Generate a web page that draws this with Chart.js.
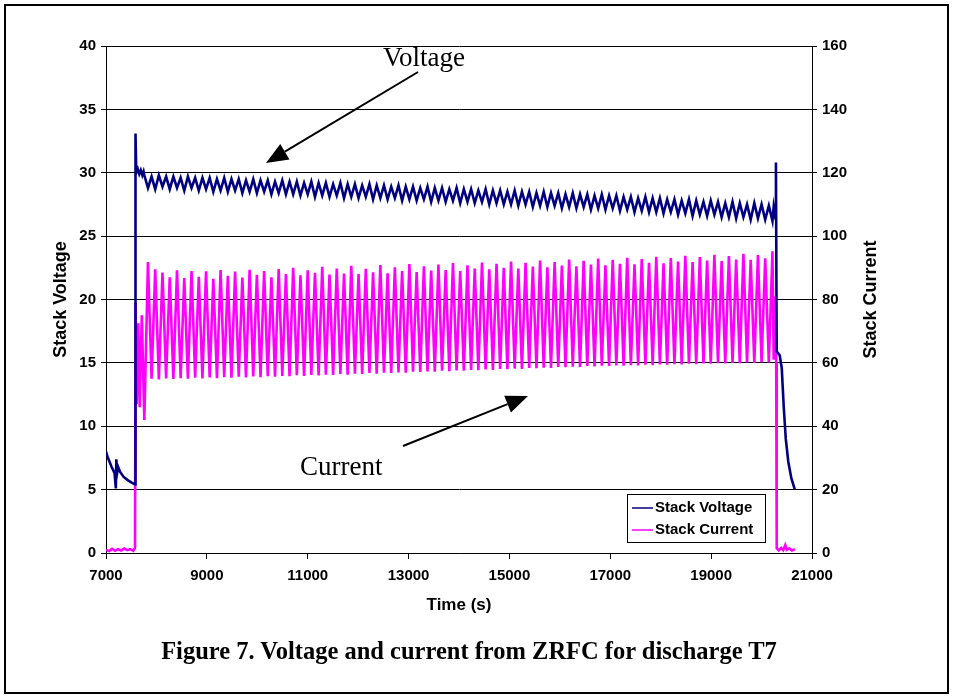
<!DOCTYPE html>
<html>
<head>
<meta charset="utf-8">
<script src="https://cdn.jsdelivr.net/npm/chart.js@4/dist/chart.umd.min.js"></script>
<style>
  html, body { margin: 0; padding: 0; background: #fff; }
  #wrap { position: relative; width: 955px; height: 698px; overflow: hidden; }
  #frame { position: absolute; left: 4px; top: 4px; width: 941px; height: 686px; border: 2px solid #000; pointer-events: none; }
  canvas { position: absolute; left: 0; top: 0; }
  .note { position: absolute; font-family: "Liberation Serif", "Times New Roman", serif; font-size: 27px; color: #000; white-space: nowrap; line-height: 1; }
  #caption { position: absolute; left: 0; width: 938px; top: 638px; text-align: center; font-family: "Liberation Serif", "Times New Roman", serif; font-weight: bold; font-size: 24.5px; color: #000; line-height: 1.1; }
</style>
</head>
<body>
<div id="wrap">
  <canvas id="c" width="955" height="698"></canvas>
  <div id="frame"></div>
  <div class="note" id="noteV" style="left:383px; top:44px;">Voltage</div>
  <div class="note" id="noteC" style="left:300px; top:453px;">Current</div>
  <div id="caption">Figure 7. Voltage and current from ZRFC for discharge T7</div>
</div>
<script>
// ---------- data ----------
const xTicks = [7000, 9000, 11000, 13000, 15000, 17000, 19000, 21000];
const voltageTicks = [0, 5, 10, 15, 20, 25, 30, 35, 40];
const currentTicks = [0, 20, 40, 60, 80, 100, 120, 140, 160];

// start of each current pulse (s)
const cycleTimes = [
  7760, 7904, 8048, 8192, 8336, 8480, 8624, 8768, 8912, 9056,
  9200, 9344, 9488, 9632, 9776, 9920, 10064, 10208, 10352, 10496,
  10640, 10784, 10928, 11072, 11216, 11360, 11504, 11648, 11792, 11936,
  12080, 12224, 12368, 12512, 12656, 12800, 12944, 13088, 13232, 13376,
  13520, 13664, 13808, 13952, 14096, 14240, 14384, 14528, 14672, 14816,
  14960, 15104, 15248, 15392, 15536, 15680, 15824, 15968, 16112, 16256,
  16400, 16544, 16688, 16832, 16976, 17120, 17264, 17408, 17552, 17696,
  17840, 17984, 18128, 18272, 18416, 18560, 18704, 18848, 18992, 19136,
  19280, 19424, 19568, 19712, 19856, 20000, 20144
];
const halfCycle = 72; // s from trough to peak

const currentTroughs = [
  42.0, 55.0, 54.8, 55.1, 54.9, 55.2, 55.0, 55.3, 55.1, 55.4,
  55.2, 55.5, 55.3, 55.6, 55.4, 55.7, 55.5, 55.8, 55.6, 55.9,
  55.8, 56.1, 55.9, 56.2, 56.0, 56.3, 56.2, 56.5, 56.3, 56.6,
  56.5, 56.8, 56.6, 56.9, 56.8, 57.0, 56.9, 57.2, 57.1, 57.3,
  57.2, 57.5, 57.4, 57.6, 57.5, 57.8, 57.7, 57.9, 57.8, 58.1,
  58.0, 58.2, 58.1, 58.4, 58.3, 58.5, 58.4, 58.7, 58.6, 58.8,
  58.7, 59.0, 58.9, 59.1, 59.0, 59.2, 59.1, 59.3, 59.2, 59.4,
  59.3, 59.5, 59.4, 59.6, 59.5, 59.7, 59.6, 59.8, 59.7, 59.9,
  59.8, 60.0, 59.9, 60.1, 60.0, 60.2, 60.1
];
const currentPeaks = [
  91.8, 89.5, 88.5, 87.0, 89.2, 86.8, 89.0, 87.2, 88.9, 86.5,
  89.3, 87.5, 88.8, 86.9, 89.4, 87.8, 89.0, 87.0, 89.6, 88.0,
  90.0, 87.6, 89.2, 88.4, 90.3, 87.9, 89.8, 88.2, 90.6, 88.0,
  89.7, 88.6, 90.9, 88.3, 90.2, 89.0, 91.2, 88.7, 90.5, 89.1,
  91.0, 89.3, 91.5, 89.0, 90.8, 89.8, 91.7, 89.5, 91.3, 90.0,
  92.0, 89.8, 91.6, 90.4, 92.3, 90.2, 91.8, 90.7, 92.6, 90.5,
  92.2, 91.0, 92.9, 90.8, 92.5, 91.3, 93.2, 91.1, 92.8, 91.6,
  93.5, 91.4, 93.1, 92.0, 93.8, 91.8, 93.4, 92.3, 94.1, 92.1,
  93.7, 92.6, 94.4, 92.5, 94.0, 93.0, 95.2
];
const voltageHighs = [
  29.8, 29.7, 29.8, 29.7, 29.7, 29.6, 29.7, 29.6, 29.6, 29.6,
  29.5, 29.6, 29.5, 29.5, 29.4, 29.5, 29.4, 29.4, 29.3, 29.4,
  29.3, 29.3, 29.2, 29.3, 29.2, 29.2, 29.1, 29.2, 29.1, 29.1,
  29.0, 29.1, 29.0, 29.0, 28.9, 29.0, 28.9, 28.9, 28.8, 28.9,
  28.8, 28.8, 28.7, 28.8, 28.7, 28.7, 28.6, 28.7, 28.6, 28.6,
  28.5, 28.6, 28.5, 28.5, 28.4, 28.5, 28.4, 28.4, 28.3, 28.4,
  28.3, 28.3, 28.2, 28.3, 28.2, 28.2, 28.1, 28.1, 28.0, 28.1,
  28.0, 28.0, 27.9, 27.9, 27.8, 27.9, 27.8, 27.7, 27.8, 27.7,
  27.6, 27.7, 27.6, 27.5, 27.6, 27.5, 27.4
];
const voltageLows = [
  28.8, 28.7, 28.9, 28.7, 28.8, 28.6, 28.8, 28.6, 28.7, 28.5,
  28.6, 28.5, 28.6, 28.4, 28.5, 28.4, 28.5, 28.3, 28.4, 28.3,
  28.3, 28.2, 28.3, 28.1, 28.2, 28.1, 28.2, 28.0, 28.1, 28.0,
  28.1, 27.9, 28.0, 27.9, 28.0, 27.8, 27.9, 27.8, 27.9, 27.7,
  27.8, 27.7, 27.8, 27.6, 27.7, 27.6, 27.7, 27.5, 27.6, 27.5,
  27.5, 27.4, 27.5, 27.3, 27.4, 27.3, 27.4, 27.2, 27.3, 27.2,
  27.3, 27.1, 27.2, 27.1, 27.2, 27.0, 27.1, 26.9, 27.0, 26.9,
  26.9, 26.8, 26.9, 26.7, 26.8, 26.6, 26.7, 26.6, 26.7, 26.5,
  26.5, 26.4, 26.5, 26.3, 26.4, 26.3, 26.2
];

// before and after the pulsed discharge: [time, value]
const voltageBefore = [
  [7000, 8.0], [7030, 7.6], [7070, 7.2], [7110, 6.8], [7170, 6.3], [7195, 5.1],
  [7205, 7.4], [7220, 6.3], [7240, 6.8], [7280, 6.4], [7350, 6.0], [7430, 5.75],
  [7510, 5.55], [7578, 5.4], [7585, 33.1], [7600, 30.0], [7630, 30.3], [7660, 29.9],
  [7690, 30.2], [7720, 29.8], [7745, 30.1]
];
const currentBefore = [
  [7000, 1.0], [7060, 0.6], [7120, 1.3], [7180, 0.7], [7240, 1.2], [7300, 0.8],
  [7360, 1.4], [7420, 0.9], [7480, 1.2], [7540, 0.7], [7575, 1.6], [7588, 79.0],
  [7608, 47.0], [7640, 72.5], [7668, 46.0], [7710, 75.0]
];
const voltageAfter = [
  [20240, 27.3], [20275, 26.4], [20285, 30.8], [20300, 15.9], [20360, 15.6],
  [20400, 14.6], [20440, 11.5], [20480, 9.0], [20530, 7.2], [20590, 5.9], [20660, 5.0]
];
const currentAfter = [
  [20240, 61.0], [20275, 81.0], [20290, 60.0], [20300, 1.5], [20340, 0.8],
  [20390, 1.6], [20430, 0.9], [20470, 2.5], [20500, 1.0], [20550, 1.5],
  [20600, 0.8], [20660, 1.2]
];

// ---------- build series ----------
const voltageData = voltageBefore.map(p => ({x: p[0], y: p[1]}));
const currentData = currentBefore.map(p => ({x: p[0], y: p[1]}));
cycleTimes.forEach((t, i) => {
  voltageData.push({x: t, y: voltageHighs[i]});
  voltageData.push({x: t + halfCycle, y: voltageLows[i]});
  currentData.push({x: t, y: currentTroughs[i]});
  currentData.push({x: t + halfCycle, y: currentPeaks[i]});
});
voltageAfter.forEach(p => voltageData.push({x: p[0], y: p[1]}));
currentAfter.forEach(p => currentData.push({x: p[0], y: p[1]}));

const AXIS_FONT = {family: '"Liberation Sans", Arial, sans-serif', size: 15, weight: 'bold'};
const TITLE_FONT = {family: '"Liberation Sans", Arial, sans-serif', size: 17, weight: 'bold'};
const YTITLE_FONT = {family: '"Liberation Sans", Arial, sans-serif', size: 18, weight: 'bold'};

const overlayPlugin = {
  id: 'overlay',
  afterDraw(chart) {
    const ctx = chart.ctx;
    ctx.save();
    // right axis title (reads bottom to top)
    const area = chart.chartArea;
    ctx.font = 'bold 18px "Liberation Sans", Arial, sans-serif';
    ctx.fillStyle = '#000';
    ctx.textAlign = 'center';
    ctx.textBaseline = 'middle';
    ctx.translate(871, (area.top + area.bottom) / 2);
    ctx.rotate(-Math.PI / 2);
    ctx.fillText('Stack Current', 0, 0);
    ctx.restore();

    // arrows
    function arrow(x1, y1, x2, y2) {
      const ang = Math.atan2(y2 - y1, x2 - x1);
      const hl = 22, hw = 9;
      const bx = x2 - hl * Math.cos(ang), by = y2 - hl * Math.sin(ang);
      ctx.save();
      ctx.strokeStyle = '#000';
      ctx.fillStyle = '#000';
      ctx.lineWidth = 2;
      ctx.beginPath();
      ctx.moveTo(x1, y1);
      ctx.lineTo(bx, by);
      ctx.stroke();
      ctx.beginPath();
      ctx.moveTo(x2, y2);
      ctx.lineTo(bx + hw * Math.sin(ang), by - hw * Math.cos(ang));
      ctx.lineTo(bx - hw * Math.sin(ang), by + hw * Math.cos(ang));
      ctx.closePath();
      ctx.fill();
      ctx.restore();
    }
    arrow(418, 72, 266, 163);
    arrow(403, 446, 528, 396);

    // legend box inside plot area
    ctx.save();
    const lx = 627, ly = 494, lw = 138, lh = 48;
    ctx.fillStyle = '#fff';
    ctx.fillRect(lx, ly, lw, lh);
    ctx.strokeStyle = '#000';
    ctx.lineWidth = 1;
    ctx.strokeRect(lx + 0.5, ly + 0.5, lw, lh);
    ctx.font = 'bold 15px "Liberation Sans", Arial, sans-serif';
    ctx.textAlign = 'left';
    ctx.textBaseline = 'middle';
    chart.data.datasets.forEach((ds, i) => {
      const cy = ly + 14 + i * 22;
      ctx.strokeStyle = ds.borderColor;
      ctx.lineWidth = 1.5;
      ctx.beginPath();
      ctx.moveTo(lx + 5, cy);
      ctx.lineTo(lx + 26, cy);
      ctx.stroke();
      ctx.fillStyle = '#000';
      ctx.fillText(ds.label, lx + 28, cy);
    });
    ctx.restore();
  }
};

new Chart(document.getElementById('c'), {
  type: 'line',
  data: {
    datasets: [
      {label: 'Stack Voltage', data: voltageData, yAxisID: 'yV', borderColor: '#000080', borderWidth: 2.6, pointRadius: 0, tension: 0},
      {label: 'Stack Current', data: currentData, yAxisID: 'yI', borderColor: '#FF00FF', borderWidth: 2.6, pointRadius: 0, tension: 0}
    ]
  },
  options: {
    responsive: false,
    devicePixelRatio: 1,
    animation: false,
    events: [],
    layout: {padding: {top: 46, left: 0, right: 0, bottom: 0}},
    plugins: {legend: {display: false}, tooltip: {enabled: false}},
    scales: {
      x: {
        type: 'linear', min: 7000, max: 21000,
        afterBuildTicks: s => { s.ticks = xTicks.map(v => ({value: v})); },
        afterFit: s => { s.height = 145; },
        ticks: {font: AXIS_FONT, color: '#000', padding: 8, maxRotation: 0, callback: v => String(v)},
        grid: {drawOnChartArea: false, drawTicks: true, tickLength: 6, color: '#000'},
        border: {display: true, color: '#000', width: 1},
        title: {display: true, text: 'Time (s)', font: TITLE_FONT, color: '#000', padding: {top: 0, bottom: 82}}
      },
      yV: {
        type: 'linear', position: 'left', min: 0, max: 40,
        afterBuildTicks: s => { s.ticks = voltageTicks.map(v => ({value: v})); },
        afterFit: s => { s.width = 106; },
        ticks: {font: AXIS_FONT, color: '#000', padding: 5, callback: v => String(v)},
        grid: {drawOnChartArea: true, drawTicks: true, tickLength: 5, color: '#000', lineWidth: 1},
        border: {display: true, color: '#000', width: 1},
        title: {display: true, text: 'Stack Voltage', font: YTITLE_FONT, color: '#000', padding: {top: 50, bottom: 0}}
      },
      yI: {
        type: 'linear', position: 'right', min: 0, max: 160,
        afterBuildTicks: s => { s.ticks = currentTicks.map(v => ({value: v})); },
        afterFit: s => { s.width = 143; },
        ticks: {font: AXIS_FONT, color: '#000', padding: 5, callback: v => String(v)},
        grid: {drawOnChartArea: false, drawTicks: true, tickLength: 5, color: '#000'},
        border: {display: true, color: '#000', width: 1},
        title: {display: false}
      }
    }
  },
  plugins: [overlayPlugin]
});
</script>
</body>
</html>
